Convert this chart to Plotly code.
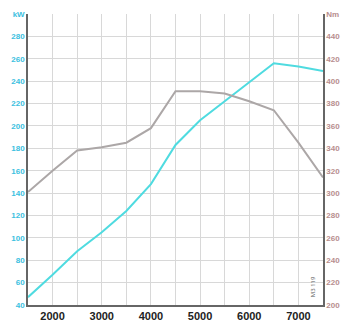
import plotly.graph_objects as go

rpm = [1500, 2000, 2500, 3000, 3500, 4000, 4500, 5000, 5500, 6000, 6500, 7000, 7500]
power_kw = [47, 67, 88, 105, 124, 148, 183, 205, 222, 239, 256, 253, 249]
torque_nm = [301, 320, 338, 341, 345, 358, 391, 391, 389, 382, 374, 345, 314]

kw_ticks = list(range(40, 301, 20))
kw_text = [str(v) for v in kw_ticks[:-1]] + ["kW"]
nm_ticks = list(range(200, 461, 20))
nm_text = [str(v) for v in nm_ticks[:-1]] + ["Nm"]
x_ticks = list(range(1500, 7501, 500))
x_text = [str(v) if v % 1000 == 0 else "" for v in x_ticks]

fig = go.Figure()
fig.add_trace(go.Scatter(x=rpm, y=torque_nm, mode="lines", yaxis="y2",
                         line=dict(color="#aca7a7", width=2), showlegend=False))
fig.add_trace(go.Scatter(x=rpm, y=power_kw, mode="lines",
                         line=dict(color="#4fdbe0", width=2), showlegend=False))

fig.add_annotation(x=0.985, y=0.02, xref="paper", yref="paper", text="M3 119",
                   textangle=-90, showarrow=False, xanchor="right", yanchor="bottom",
                   font=dict(size=6, color="#555"))

fig.update_layout(
    width=357, height=332,
    margin=dict(l=28, r=34, t=10, b=27),
    paper_bgcolor="white", plot_bgcolor="white",
    xaxis=dict(range=[1500, 7500], tickvals=x_ticks, ticktext=x_text,
               showgrid=True, gridcolor="#d8d8d8", gridwidth=1,
               showline=True, linecolor="#666", linewidth=1.5,
               ticks="", zeroline=False,
               tickfont=dict(family="Liberation Sans Narrow, Arial Narrow, sans-serif",
                             size=11, color="#222", weight="bold")),
    yaxis=dict(range=[40, 300], tickvals=kw_ticks, ticktext=kw_text,
               showgrid=True, gridcolor="#d8d8d8", gridwidth=1,
               showline=True, linecolor="#666", linewidth=1.5,
               ticks="", zeroline=False,
               tickfont=dict(family="Liberation Sans Narrow, Arial Narrow, sans-serif",
                             size=8, color="#3cc0e0", weight="bold")),
    yaxis2=dict(range=[200, 460], tickvals=nm_ticks, ticktext=nm_text,
                overlaying="y", side="right", showgrid=False,
                showline=True, linecolor="#666", linewidth=1.5,
                ticks="", zeroline=False,
                tickfont=dict(family="Liberation Sans Narrow, Arial Narrow, sans-serif",
                              size=8, color="#b88e8e", weight="bold")),
)

fig.write_html("out.html")
